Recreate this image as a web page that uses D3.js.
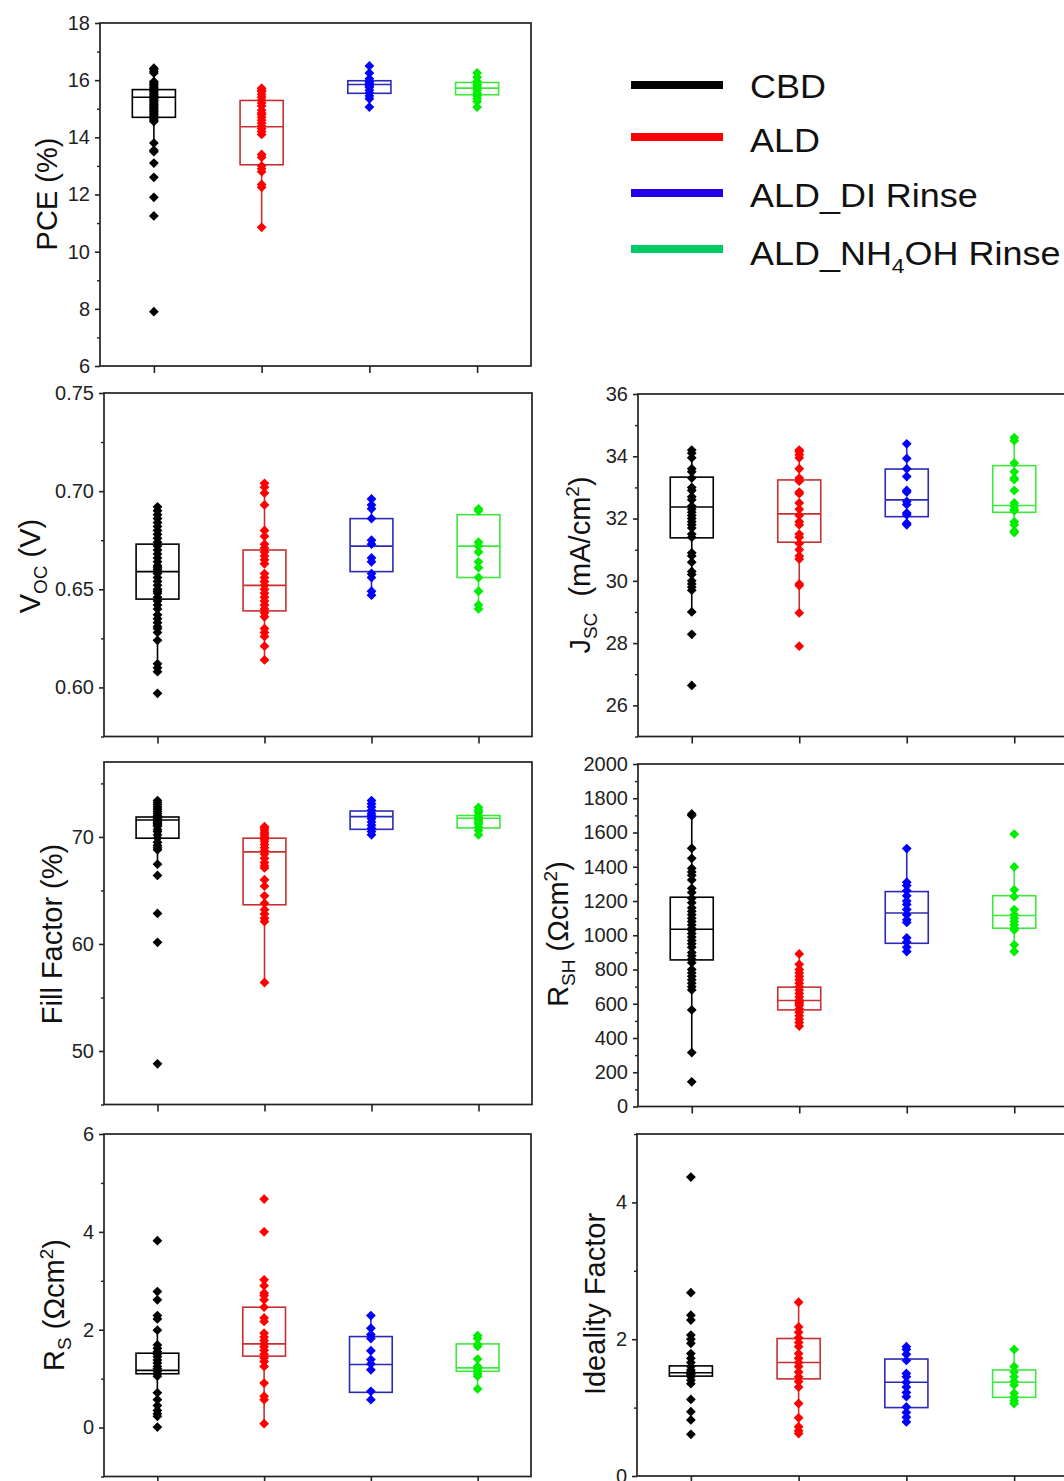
<!DOCTYPE html>
<html>
<head>
<meta charset="utf-8">
<script src="https://cdn.jsdelivr.net/npm/d3@7"></script>
<style>
  body { margin: 0; background: #fff; }
  svg { display: block; font-family: Arial, "Liberation Sans", sans-serif; }
</style>
</head>
<body>
<div id="chart"></div>
<script>
// groups and colours
const groups = ["CBD", "ALD", "ALD_DI Rinse", "ALD_NH4OH Rinse"];
const pointColors = ["#000000", "#ff0000", "#0000ff", "#00ee00"];
const boxColors = ["#000000", "#c83030", "#2b2bb5", "#3de83d"];
const legendColors = ["#000000", "#ff0000", "#2200ee", "#00cc66"];

// box stats per group: [whisker low, q1, median, q3, whisker high]
// points per group
const pceBoxes = [[13.54, 14.7, 15.4, 15.67, 16.42], [10.85, 13.04, 14.37, 15.29, 15.72], [15.06, 15.54, 15.85, 15.98, 16.5], [15.06, 15.49, 15.72, 15.92, 16.25]];
const pcePoints = [
  [16.42, 16.38, 16.31, 16.25, 15.95, 15.9, 15.85, 15.8, 15.75, 15.7, 15.65, 15.6, 15.55, 15.5, 15.45, 15.42, 15.4, 15.38, 15.35, 15.3, 15.25, 15.2, 15.15, 15.1, 15.05, 15.0, 14.95, 14.9, 14.85, 14.8, 14.75, 14.7, 14.65, 14.6, 14.55, 13.8, 13.55, 13.5, 13.1, 12.6, 11.9, 11.25, 7.9],
  [15.72, 15.65, 15.6, 15.5, 15.4, 15.3, 15.2, 15.1, 14.95, 14.85, 14.8, 14.7, 14.6, 14.5, 14.4, 14.3, 14.2, 14.1, 13.4, 13.3, 13.0, 12.9, 12.8, 12.35, 12.25, 10.85],
  [16.5, 16.25, 16.05, 15.95, 15.9, 15.85, 15.8, 15.75, 15.65, 15.55, 15.45, 15.35, 15.06],
  [16.25, 16.1, 15.95, 15.85, 15.8, 15.72, 15.65, 15.55, 15.45, 15.35, 15.25, 15.06]
];

const vocBoxes = [[0.608, 0.645, 0.659, 0.673, 0.692], [0.614, 0.639, 0.652, 0.670, 0.704], [0.647, 0.659, 0.672, 0.686, 0.696], [0.640, 0.656, 0.672, 0.688, 0.691]];
const vocPoints = [
  [0.692, 0.690, 0.688, 0.686, 0.684, 0.682, 0.680, 0.678, 0.676, 0.674, 0.672, 0.670, 0.668, 0.666, 0.664, 0.662, 0.661, 0.660, 0.659, 0.658, 0.656, 0.654, 0.652, 0.650, 0.649, 0.648, 0.646, 0.644, 0.642, 0.640, 0.637, 0.635, 0.633, 0.631, 0.630, 0.628, 0.624, 0.612, 0.610, 0.608, 0.597],
  [0.704, 0.702, 0.699, 0.693, 0.680, 0.677, 0.673, 0.671, 0.669, 0.667, 0.665, 0.663, 0.658, 0.656, 0.654, 0.652, 0.650, 0.648, 0.646, 0.644, 0.642, 0.640, 0.638, 0.636, 0.630, 0.628, 0.626, 0.621, 0.614],
  [0.696, 0.693, 0.691, 0.686, 0.675, 0.673, 0.666, 0.664, 0.658, 0.656, 0.649, 0.647],
  [0.691, 0.690, 0.674, 0.672, 0.669, 0.664, 0.661, 0.656, 0.649, 0.642, 0.640]
];

const jscBoxes = [[28.97, 31.38, 32.37, 33.33, 34.2], [28.97, 31.24, 32.15, 33.24, 34.2], [31.8, 32.06, 32.6, 33.59, 34.4], [31.55, 32.2, 32.42, 33.7, 34.6]];
const jscPoints = [
  [34.2, 34.1, 33.95, 33.6, 33.5, 33.3, 33.0, 32.9, 32.7, 32.6, 32.4, 32.3, 32.2, 32.1, 32.0, 31.9, 31.8, 31.7, 31.5, 31.4, 30.9, 30.8, 30.6, 30.3, 30.2, 30.0, 29.9, 29.8, 29.7, 29.0, 28.28, 26.64],
  [34.2, 34.15, 34.05, 33.95, 33.6, 33.3, 33.2, 32.85, 32.8, 32.5, 32.3, 32.1, 31.9, 31.8, 31.5, 31.4, 31.2, 31.0, 30.8, 30.7, 29.9, 29.85, 28.97, 27.9],
  [34.4, 33.93, 33.6, 33.35, 32.9, 32.85, 32.55, 32.45, 32.18, 32.12, 31.85, 31.8],
  [34.6, 34.5, 33.78, 33.5, 33.3, 33.25, 32.9, 32.5, 32.4, 32.3, 32.25, 31.9, 31.8, 31.6, 31.55]
];

const ffBoxes = [[67.45, 69.88, 71.58, 71.86, 73.45], [56.4, 63.66, 68.6, 69.88, 70.95], [70.2, 70.71, 71.9, 72.42, 73.45], [70.2, 70.84, 71.74, 72.0, 72.75]];
const ffPoints = [
  [73.4, 73.2, 73.0, 72.8, 72.6, 72.4, 72.2, 72.0, 71.9, 71.8, 71.7, 71.6, 71.5, 71.4, 71.3, 71.2, 71.1, 71.0, 70.7, 70.5, 70.2, 69.9, 69.5, 69.2, 69.0, 68.8, 67.45, 66.4, 62.85, 60.15, 48.8],
  [70.95, 70.8, 70.6, 70.4, 70.2, 70.0, 69.8, 69.6, 69.3, 69.0, 68.7, 68.4, 68.0, 67.6, 67.3, 67.1, 66.0, 65.4, 64.5, 63.8, 63.2, 62.8, 62.4, 62.1, 56.4],
  [73.4, 73.1, 72.8, 72.5, 72.2, 72.0, 71.9, 71.7, 71.4, 71.1, 70.8, 70.5, 70.2],
  [72.75, 72.5, 72.3, 72.0, 71.8, 71.6, 71.4, 71.2, 70.9, 70.6, 70.2]
];

const rshBoxes = [[315, 856, 1035, 1222, 1708], [467, 564, 619, 697, 891], [905, 953, 1130, 1255, 1506], [905, 1041, 1115, 1231, 1399]];
const rshPoints = [
  [1708, 1700, 1508, 1449, 1391, 1370, 1350, 1323, 1274, 1250, 1216, 1190, 1160, 1140, 1120, 1100, 1080, 1060, 1040, 1030, 1010, 990, 970, 950, 930, 900, 880, 860, 840, 800, 780, 760, 740, 720, 700, 681, 564, 315, 144],
  [891, 830, 800, 780, 760, 740, 720, 700, 680, 660, 640, 620, 610, 600, 590, 570, 550, 530, 510, 490, 470],
  [1506, 1310, 1290, 1260, 1230, 1200, 1180, 1150, 1120, 1090, 1075, 985, 960, 930, 905],
  [1591, 1399, 1265, 1226, 1150, 1120, 1100, 1080, 1060, 1040, 1031, 944, 905]
];

const rsBoxes = [[0.23, 1.1, 1.17, 1.52, 1.99], [0.08, 1.46, 1.71, 2.46, 3.02], [0.57, 0.72, 1.29, 1.86, 2.29], [0.79, 1.15, 1.22, 1.71, 1.88]];
const rsPoints = [
  [3.82, 2.78, 2.61, 2.29, 2.22, 1.99, 1.69, 1.62, 1.55, 1.5, 1.45, 1.38, 1.32, 1.25, 1.2, 1.15, 1.1, 1.05, 0.71, 0.57, 0.45, 0.35, 0.28, 0.23, 0.01],
  [4.67, 4.0, 3.02, 2.9, 2.75, 2.7, 2.61, 2.46, 2.24, 2.17, 1.93, 1.85, 1.78, 1.71, 1.65, 1.58, 1.5, 1.42, 1.35, 1.25, 0.91, 0.64, 0.57, 0.08],
  [2.29, 2.03, 1.9, 1.82, 1.57, 1.39, 1.3, 1.18, 0.74, 0.57],
  [1.88, 1.82, 1.7, 1.66, 1.4, 1.25, 1.2, 1.15, 1.1, 1.05, 0.79]
];

const idealBoxes = [[1.35, 1.46, 1.51, 1.61, 1.79], [0.62, 1.42, 1.66, 2.01, 2.54], [0.79, 1.0, 1.37, 1.71, 1.89], [1.06, 1.15, 1.37, 1.55, 1.85]];
const idealPoints = [
  [4.37, 2.68, 2.35, 2.28, 2.06, 2.0, 1.94, 1.79, 1.72, 1.66, 1.6, 1.55, 1.52, 1.5, 1.48, 1.45, 1.4, 1.35, 1.12, 0.94, 0.82, 0.61],
  [2.54, 2.18, 2.1, 2.02, 1.95, 1.89, 1.79, 1.72, 1.66, 1.6, 1.52, 1.45, 1.38, 1.3, 1.06, 0.85, 0.72, 0.66, 0.62],
  [1.89, 1.85, 1.78, 1.69, 1.5, 1.45, 1.37, 1.3, 1.22, 1.16, 1.01, 0.93, 0.86, 0.79],
  [1.85, 1.6, 1.52, 1.45, 1.38, 1.33, 1.21, 1.15, 1.1, 1.06]
];

// axis ticks
const pceTicks = [6, 8, 10, 12, 14, 16, 18], pceMinor = [7, 9, 11, 13, 15, 17];
const vocTicks = [0.60, 0.65, 0.70, 0.75], vocMinor = [0.575, 0.625, 0.675, 0.725];
const jscTicks = [26, 28, 30, 32, 34, 36], jscMinor = [25, 27, 29, 31, 33, 35];
const ffTicks = [50, 60, 70], ffMinor = [45, 55, 65, 75];
const rshTicks = d3.range(0, 2001, 200), rshMinor = d3.range(100, 2000, 200);
const rsTicks = [0, 2, 4, 6], rsMinor = [-1, 1, 3, 5];
const idealTicks = [0, 2, 4], idealMinor = [1, 3, 5];

const width = 1064, height = 1481;

const svg = d3.select("#chart").append("svg")
  .attr("width", width)
  .attr("height", height);

// label parts: [text, kind] kind: "" normal, "sub", "sup"
const panels = [
  { x0: 100, x1: 531, top: 23, bottom: 366, domain: [6, 18], ticks: pceTicks, minor: pceMinor, fmt: d3.format("d"), boxes: pceBoxes, points: pcePoints,
    label: [["PCE (%)", ""]], lx: 57, ly: 194 },
  { x0: 104, x1: 532, top: 393, bottom: 736.5, domain: [0.575, 0.75], ticks: vocTicks, minor: vocMinor, fmt: d3.format(".2f"), boxes: vocBoxes, points: vocPoints,
    label: [["V", ""], ["OC", "sub"], [" (V)", ""]], lx: 40, ly: 566 },
  { x0: 638, x1: 1068, top: 394, bottom: 736.5, domain: [25, 36], ticks: jscTicks, minor: jscMinor, fmt: d3.format("d"), boxes: jscBoxes, points: jscPoints,
    label: [["J", ""], ["SC", "sub"], ["  (mA/cm", ""], ["2", "sup"], [")", ""]], lx: 590, ly: 565 },
  { x0: 104, x1: 532, top: 762, bottom: 1104.5, domain: [45, 77], ticks: ffTicks, minor: ffMinor, fmt: d3.format("d"), boxes: ffBoxes, points: ffPoints,
    label: [["Fill Factor (%)", ""]], lx: 62, ly: 934 },
  { x0: 638, x1: 1068, top: 764, bottom: 1106.5, domain: [0, 2000], ticks: rshTicks, minor: rshMinor, fmt: d3.format("d"), boxes: rshBoxes, points: rshPoints,
    label: [["R", ""], ["SH", "sub"], [" (\u03A9cm", ""], ["2", "sup"], [")", ""]], lx: 568, ly: 934 },
  { x0: 104, x1: 531, top: 1134, bottom: 1476.5, domain: [-1, 6], ticks: rsTicks, minor: rsMinor, fmt: d3.format("d"), boxes: rsBoxes, points: rsPoints,
    label: [["R", ""], ["S", "sub"], [" (\u03A9cm", ""], ["2", "sup"], [")", ""]], lx: 64, ly: 1305 },
  { x0: 637, x1: 1068, top: 1134, bottom: 1476, domain: [0, 5], ticks: idealTicks, minor: idealMinor, fmt: d3.format("d"), boxes: idealBoxes, points: idealPoints,
    label: [["Ideality Factor", ""]], lx: 605, ly: 1304 }
];

const diamond = d3.symbol().type(d3.symbolSquare).size(48);

panels.forEach(p => {
  const x = d3.scaleLinear().domain([0.5, 4.5]).range([p.x0, p.x1]);
  const y = d3.scaleLinear().domain(p.domain).range([p.bottom, p.top]);
  const g = svg.append("g");
  const halfW = (x(1.2) - x(1));

  // boxes
  p.boxes.forEach((b, i) => {
    const cx = x(i + 1);
    const bg = g.append("g")
      .attr("stroke", boxColors[i])
      .attr("stroke-width", 1.6)
      .attr("fill", "none");
    bg.append("line").attr("x1", cx).attr("x2", cx).attr("y1", y(b[0])).attr("y2", y(b[1]));
    bg.append("line").attr("x1", cx).attr("x2", cx).attr("y1", y(b[3])).attr("y2", y(b[4]));
    bg.append("rect")
      .attr("x", cx - halfW).attr("width", 2 * halfW)
      .attr("y", y(b[3])).attr("height", y(b[1]) - y(b[3]));
    bg.append("line").attr("x1", cx - halfW).attr("x2", cx + halfW).attr("y1", y(b[2])).attr("y2", y(b[2]));
  });

  // points
  p.points.forEach((vals, i) => {
    g.selectAll(null)
      .data(vals)
      .enter()
      .append("path")
      .attr("d", diamond)
      .attr("transform", d => `translate(${x(i + 1)},${y(d)}) rotate(45)`)
      .attr("fill", pointColors[i]);
  });

  // frame
  g.append("rect")
    .attr("x", p.x0).attr("y", p.top)
    .attr("width", p.x1 - p.x0).attr("height", p.bottom - p.top)
    .attr("fill", "none")
    .attr("stroke", "#222")
    .attr("stroke-width", 1.7);

  // y axis
  const yAxis = g.append("g")
    .attr("transform", `translate(${p.x0},0)`)
    .call(d3.axisLeft(y).tickValues(p.ticks).tickSize(5).tickPadding(5).tickFormat(p.fmt));
  yAxis.select(".domain").remove();
  yAxis.selectAll("line").attr("stroke", "#222").attr("stroke-width", 1.6);
  yAxis.selectAll("text").attr("font-size", 20).attr("fill", "#222")
    .attr("font-family", "Arial, 'Liberation Sans', sans-serif");

  const yMinor = g.append("g")
    .attr("transform", `translate(${p.x0},0)`)
    .call(d3.axisLeft(y).tickValues(p.minor).tickSize(3).tickFormat(""));
  yMinor.select(".domain").remove();
  yMinor.selectAll("line").attr("stroke", "#222").attr("stroke-width", 1.4);

  // x axis
  const xAxis = g.append("g")
    .attr("transform", `translate(0,${p.bottom})`)
    .call(d3.axisBottom(x).tickValues([1, 2, 3, 4]).tickSize(7).tickFormat(""));
  xAxis.select(".domain").remove();
  xAxis.selectAll("line").attr("stroke", "#222").attr("stroke-width", 1.6);

  // y label
  const t = svg.append("text")
    .attr("transform", `translate(${p.lx},${p.ly}) rotate(-90)`)
    .attr("text-anchor", "middle")
    .attr("font-size", 29)
    .attr("fill", "#111");
  let shift = 0;
  p.label.forEach(([txt, kind]) => {
    const ts = t.append("tspan").text(txt).attr("xml:space", "preserve");
    let target = kind === "sub" ? 7 : kind === "sup" ? -11 : 0;
    ts.attr("dy", target - shift);
    shift = target;
    if (kind) ts.attr("font-size", 19);
  });
});

// legend
const legendY = [85, 137, 193, 249];
const legendBase = [98, 152, 207, 265];
const leg = svg.append("g");
groups.forEach((name, i) => {
  leg.append("line")
    .attr("x1", 631).attr("x2", 723)
    .attr("y1", legendY[i]).attr("y2", legendY[i])
    .attr("stroke", legendColors[i])
    .attr("stroke-width", 8);
  const t = leg.append("text")
    .attr("transform", `translate(750,${legendBase[i]}) scale(1.09,1)`)
    .attr("font-size", 33)
    .attr("fill", "#111");
  if (name === "ALD_NH4OH Rinse") {
    t.append("tspan").text("ALD_NH");
    t.append("tspan").text("4").attr("font-size", 21).attr("dy", 8);
    t.append("tspan").text("OH Rinse").attr("dy", -8);
  } else {
    t.text(name);
  }
});
</script>
</body>
</html>
